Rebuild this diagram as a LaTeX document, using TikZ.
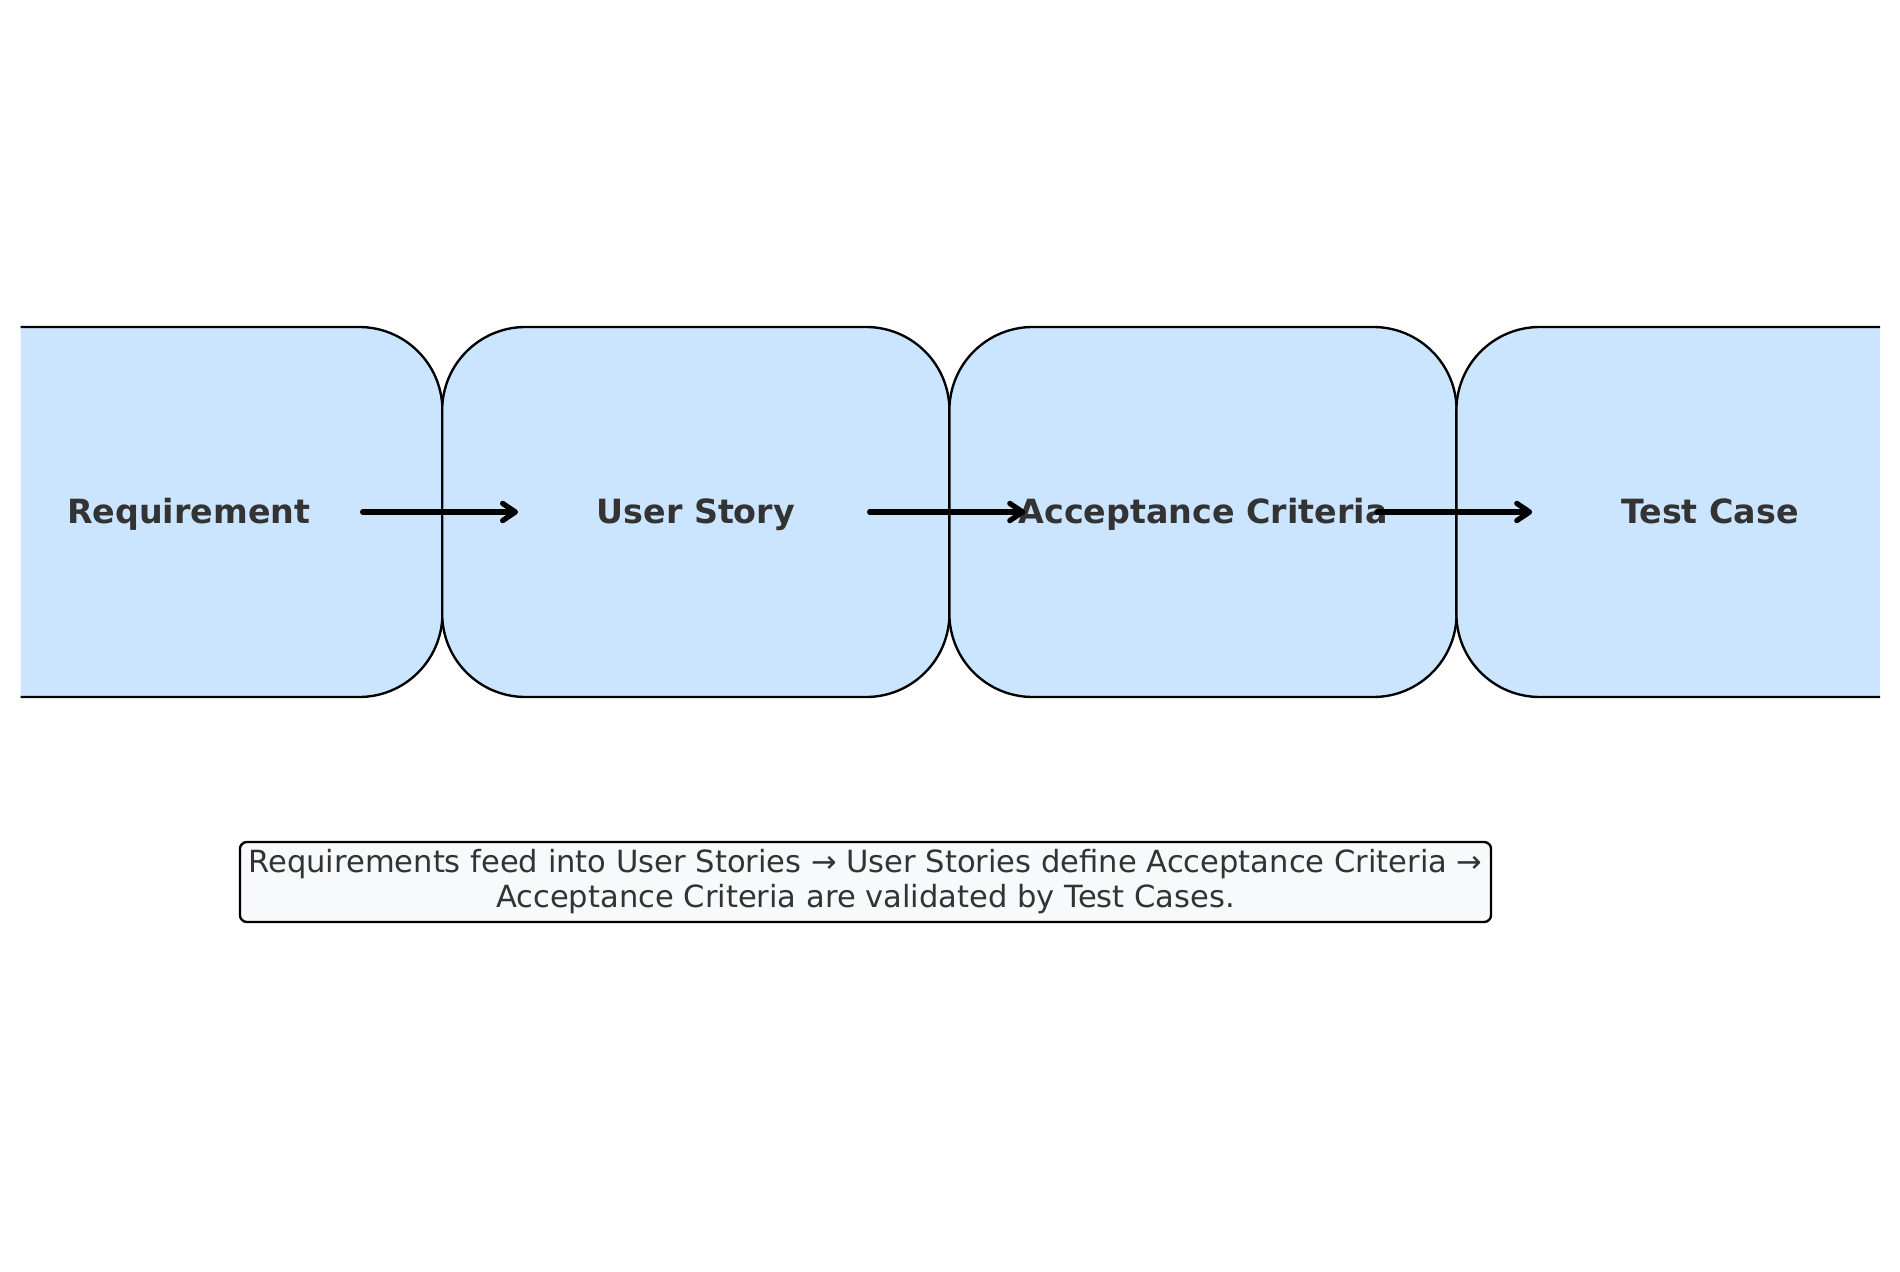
\documentclass[tikz,border=0pt]{standalone}
\usepackage{fontspec}
\setmainfont{DejaVu Sans}
\usetikzlibrary{arrows.meta}
\definecolor{stagefill}{HTML}{CCE5FF}
\definecolor{notefill}{HTML}{F8F9FA}
\definecolor{labelgray}{HTML}{333333}

\begin{document}
\begin{tikzpicture}[x=0.36pt, y=-0.36pt,
        stage/.style={draw=black, line width=0.85pt, fill=stagefill, rounded corners=30pt,
            minimum width=182.6pt, minimum height=133.2pt, text=labelgray,
            text height=10.2pt, text depth=1.6pt,
            font=\bfseries\fontsize{12}{14}\selectfont},
        flow/.style={line width=1.9pt, line cap=round,
            -{Straight Barb[length=4.6pt, width=6.2pt, line width=1.9pt, round]}},
        note/.style={draw=black, line width=0.85pt, fill=notefill, rounded corners=2.5pt,
            minimum width=450.4pt, minimum height=28.8pt, align=center, text=labelgray,
            inner sep=1pt, font=\fontsize{11}{12.6}\selectfont}]
    \useasboundingbox (0,0) rectangle (1900,1272);
    \begin{scope}
        \clip (20.5,0) rectangle (1880,1272);         % axes area cuts the outer boxes
        \node[stage] (req)   at (188.8,512) {Requirement};
        \node[stage] (story) at (695.8,512) {User Story};
        \node[stage] (crit)  at (1203,512)  {Acceptance Criteria};
        \node[stage] (test)  at (1710,512)  {Test Case};
    \end{scope}
    \draw[flow] ([xshift=62.6pt]req.center)   -- ([xshift=-64pt]story.center);
    \draw[flow] ([xshift=62.6pt]story.center) -- ([xshift=-64pt]crit.center);
    \draw[flow] ([xshift=62.6pt]crit.center)  -- ([xshift=-64pt]test.center);
    \node[note] (summary) at (865.5,882)
        {Requirements feed into User Stories → User Stories define Acceptance Criteria →\\
         Acceptance Criteria are validated by Test Cases.};
\end{tikzpicture}
\end{document}
